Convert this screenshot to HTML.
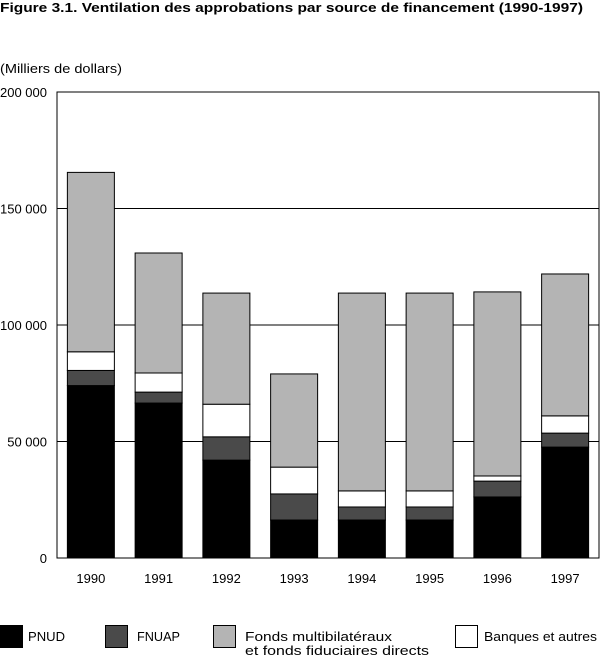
<!DOCTYPE html>
<html><head><meta charset="utf-8"><style>
body{margin:0;background:#fff;}
svg{display:block;font-family:"Liberation Sans Narrow","Liberation Sans",sans-serif;}
</style></head><body>
<svg id="chart" width="600" height="657" viewBox="0 0 600 657">
<text x="0" y="12" font-size="13" font-weight="bold" textLength="583" lengthAdjust="spacingAndGlyphs">Figure 3.1.   Ventilation des approbations par source de financement (1990-1997)</text>
<text x="0" y="73" font-size="13" textLength="122" lengthAdjust="spacingAndGlyphs">(Milliers de dollars)</text>
<g id="grid"></g><g id="bars"></g><g id="axes"></g><g id="legend"></g>
</svg>
<script>
const years=["1990","1991","1992","1993","1994","1995","1996","1997"];
const pnud=[74,66.5,42,16.3,16.3,16.3,26.2,47.6];
const fnuap=[6.5,4.7,10,11.2,5.6,5.6,6.8,6];
const banques=[8,8.2,14,11.5,6.9,6.9,2.2,7.4];
const fonds=[77,51.5,47.7,40,84.9,84.9,79,60.9];
const ticks=[0,50,100,150,200];
const tickLabels=["0","50 000","100 000","150 000","200 000"];
const NS="http://www.w3.org/2000/svg";
const L=57,R=599,T=92,B=558,maxV=200;
const y=v=>B-(v/maxV)*(B-T);
const bw=(R-L)/years.length, barW=47;
const x=i=>L+bw*i+(bw-barW)/2;
function mk(tag,at,parent){const e=document.createElementNS(NS,tag);for(const k in at)e.setAttribute(k,at[k]);document.getElementById(parent).appendChild(e);return e;}
ticks.forEach((t,i)=>{
 if(t>0&&t<maxV){const g=mk('line',{x1:L,x2:R,y1:y(t),y2:y(t),stroke:'#000','stroke-width':1},'grid');
 
 }
 const tx=mk('text',{x:47,y:y(t)+5,'text-anchor':'end','font-size':13},'axes');tx.textContent=tickLabels[i];
 
 
});
const series=[[pnud,'#000','pnud'],[fnuap,'#4a4a4a','fnuap'],[banques,'#fff','banques'],[fonds,'#b4b4b4','fonds']];
years.forEach((yr,i)=>{
 let base=0;
 series.forEach(([arr,col,nm])=>{
  const v=arr[i];
  const r=mk('rect',{x:x(i),y:y(base+v),width:barW,height:y(base)-y(base+v),fill:col,stroke:'#000','stroke-width':1},'bars');
  
  
  base+=v;
 });
 const t=mk('text',{x:x(i)+barW/2,y:583,'text-anchor':'middle','font-size':13},'axes');t.textContent=yr;
 
 
});
const frame=mk('rect',{x:L,y:T,width:R-L,height:B-T,fill:'none',stroke:'#000','stroke-width':1},'axes');


const leg=[['#000','PNUD',0,28,37],['#4a4a4a','FNUAP',105,137,43],['#b4b4b4','Fonds multibilatéraux',213,245,147],['#fff','Banques et autres',455,484,113]];
leg.forEach(([c,lab,sx,tx,w])=>{
 const s=mk('rect',{x:sx+0.5,y:625.5,width:22,height:22,fill:c,stroke:'#000','stroke-width':1},'legend');
 
 
 const t=mk('text',{x:tx,y:641,'font-size':13,textLength:w,lengthAdjust:'spacingAndGlyphs'},'legend');t.textContent=lab;
 
 
});
const t2=mk('text',{x:245,y:655,'font-size':13,textLength:184,lengthAdjust:'spacingAndGlyphs'},'legend');t2.textContent='et fonds fiduciaires directs';


</script>
</body></html>
